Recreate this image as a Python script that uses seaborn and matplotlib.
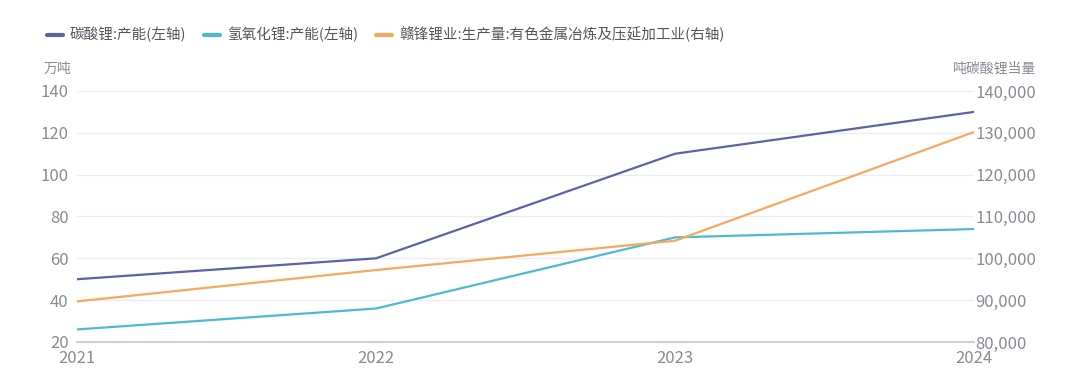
import matplotlib as mpl
mpl.use('Agg')
import matplotlib.pyplot as plt
from matplotlib.lines import Line2D
from matplotlib.ticker import FuncFormatter
import seaborn as sns
import pandas as pd

years = [2021, 2022, 2023, 2024]
li2co3_cap = [50, 60, 110, 130]
lioh_cap = [26, 36, 70, 74]
ganfeng_output = [89700, 97200, 104200, 130200]

series_names = ['碳酸锂:产能(左轴)', '氢氧化锂:产能(左轴)',
                '赣锋锂业:生产量:有色金属冶炼及压延加工业(右轴)']
colors = ['#5c62a6', '#4cbad2', '#f6a95e']

sns.set_theme(style='white')
plt.rcParams['font.family'] = ['Noto Sans CJK SC', 'DejaVu Sans']

left_df = pd.DataFrame({
    'year': years * 2,
    'value': li2co3_cap + lioh_cap,
    'series': [series_names[0]] * 4 + [series_names[1]] * 4,
})
right_df = pd.DataFrame({'year': years, 'value': ganfeng_output})

fig = plt.figure(figsize=(10.8, 3.92), dpi=100)
ax = fig.add_axes([0.0713, 0.1276, 0.8306, 0.6403])
ax2 = ax.twinx()

sns.lineplot(data=left_df, x='year', y='value', hue='series',
             palette=colors[:2], linewidth=1.6, ax=ax, legend=False)
sns.lineplot(data=right_df, x='year', y='value', color=colors[2],
             linewidth=1.6, ax=ax2, legend=False)

tick_col = '#8a8a96'
ax.set_xlim(2021, 2024)
ax.set_ylim(20, 140)
ax.set_yticks(range(20, 141, 20))
ax.set_xticks(years)
ax2.set_ylim(80000, 140000)
ax2.set_yticks(range(80000, 140001, 10000))
ax2.yaxis.set_major_formatter(FuncFormatter(lambda v, p: '{:,.0f}'.format(v)))

for a in (ax, ax2):
    a.set_xlabel('')
    a.set_ylabel('')
    for s in a.spines.values():
        s.set_visible(False)
    a.tick_params(length=0, labelsize=12, labelcolor=tick_col)

ax.grid(axis='y', color='#ececf3', linewidth=0.9)
ax.set_axisbelow(True)
ax.spines['bottom'].set_visible(True)
ax.spines['bottom'].set_color('#c5c6d4')
ax.tick_params(axis='x', pad=6)
ax.tick_params(axis='y', pad=6)
ax2.tick_params(axis='y', pad=1)

ax.text(-0.037, 1.06, '万吨', transform=ax.transAxes, fontsize=10,
        color=tick_col, ha='left', va='bottom')
ax2.text(1.069, 1.06, '吨碳酸锂当量', transform=ax.transAxes,
         fontsize=10, color=tick_col, ha='right', va='bottom')

handles = [Line2D([], [], color=c, linewidth=3) for c in colors]
fig.legend(handles, series_names, loc='upper left',
           bbox_to_anchor=(0.031, 0.965), ncol=3, frameon=False,
           fontsize=10.5, handlelength=1.1, handletextpad=0.5,
           columnspacing=1.2, labelcolor='#555560')

fig.savefig('out.png', dpi=100)
